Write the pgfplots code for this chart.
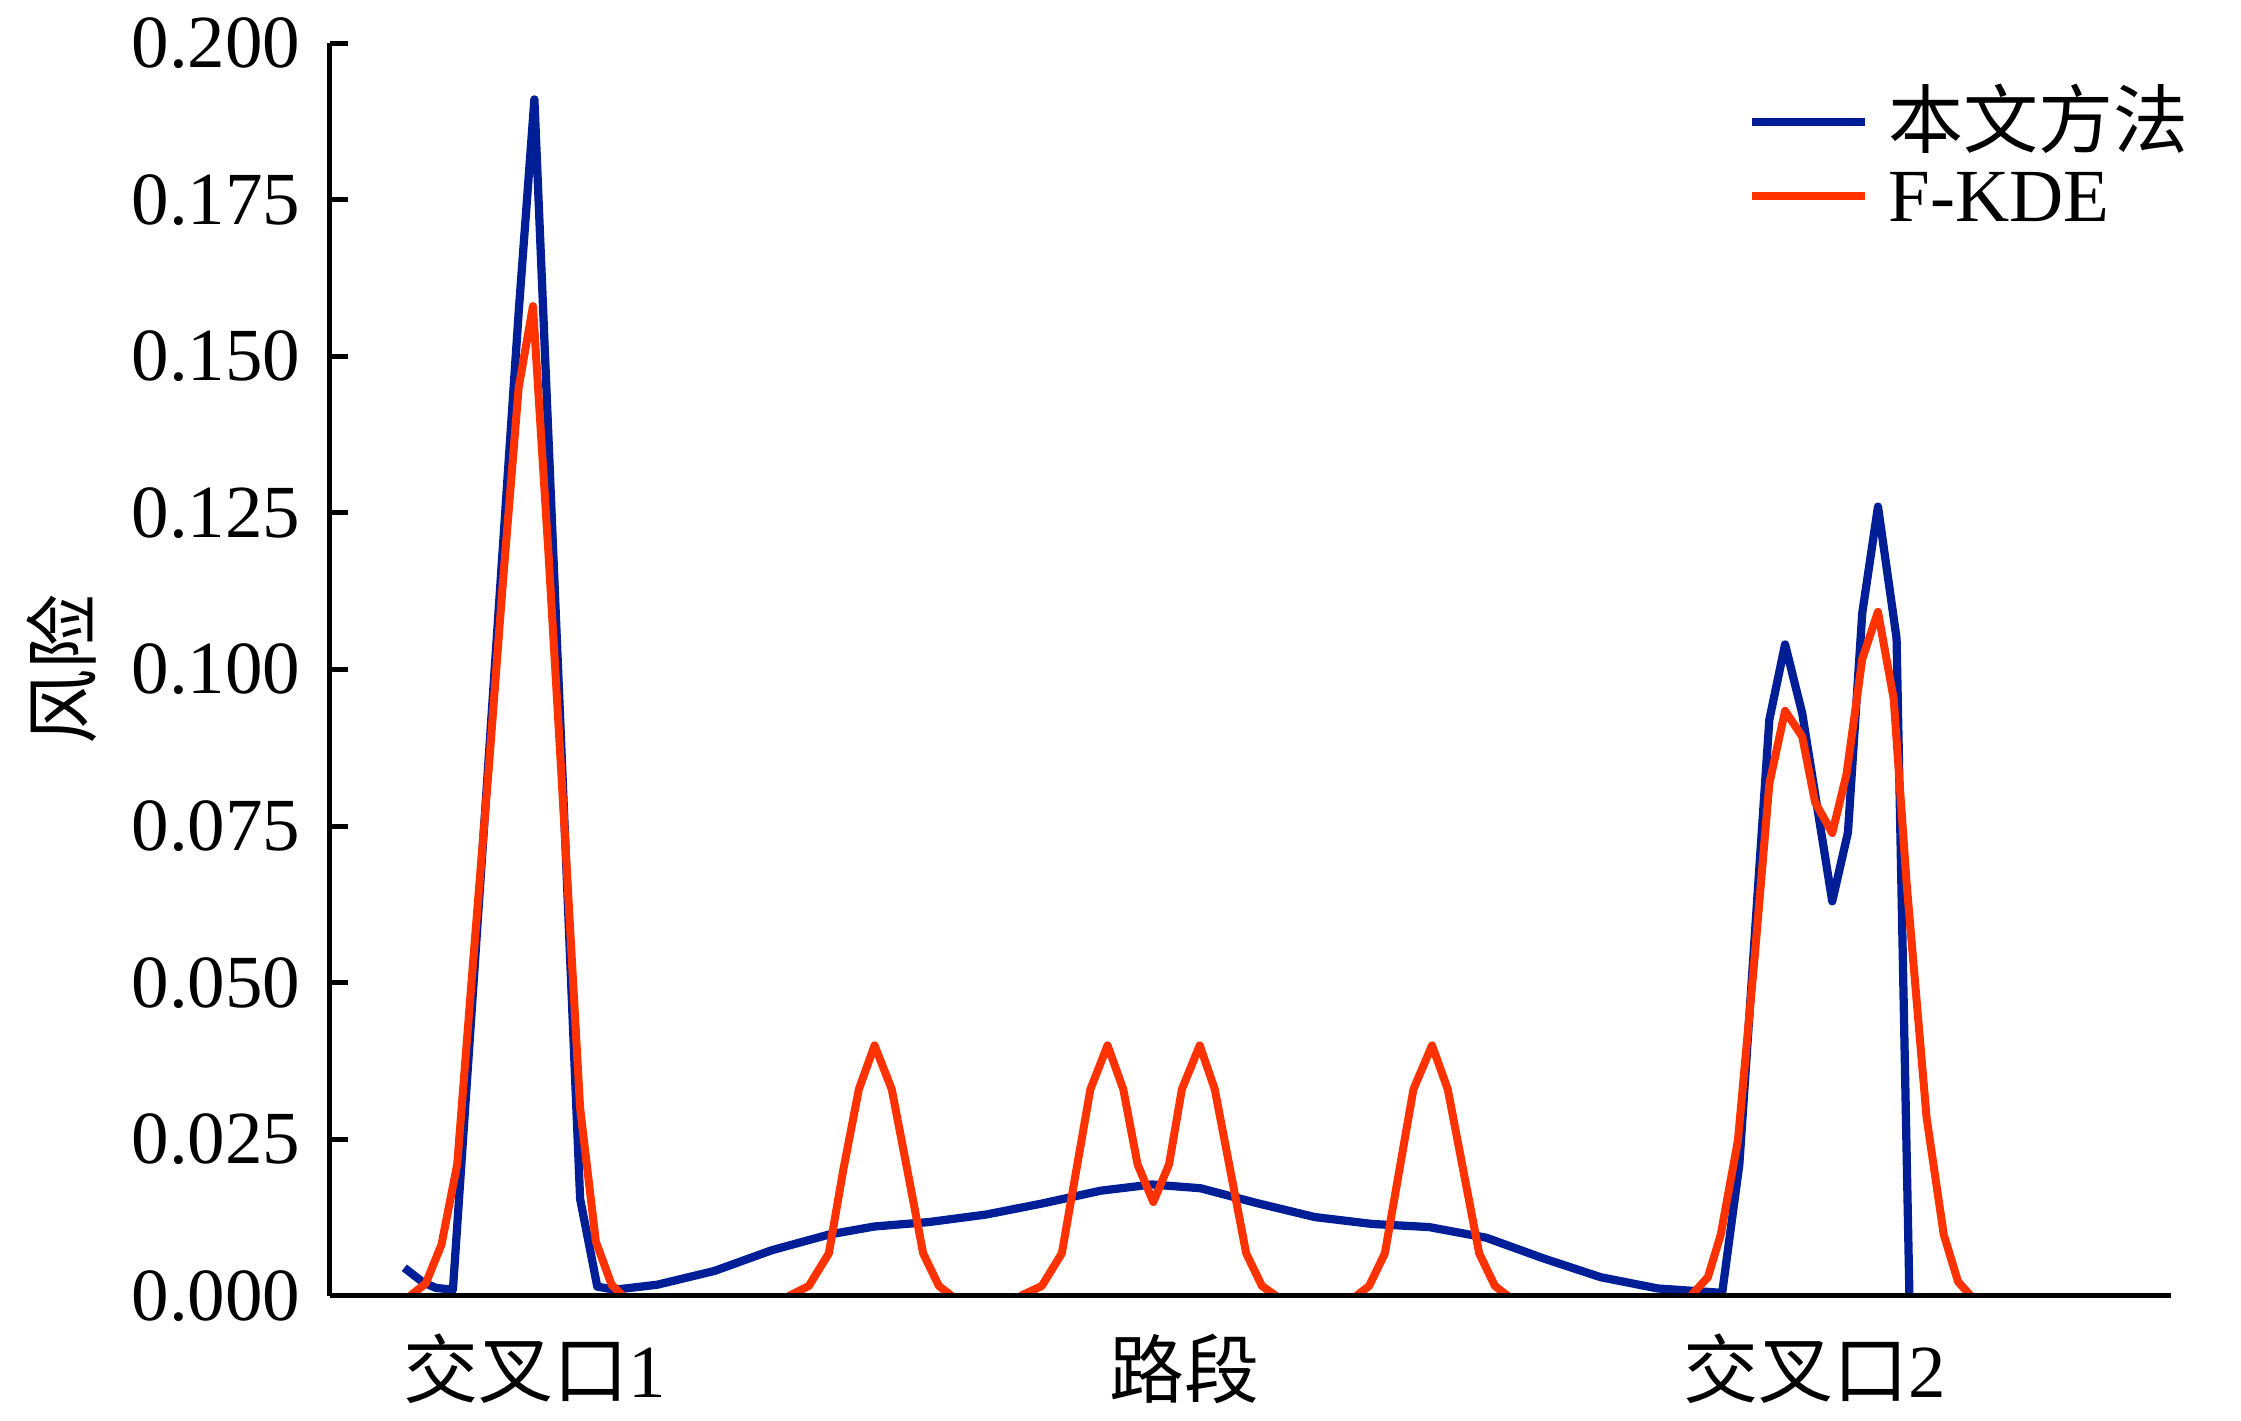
\documentclass[border=0pt]{standalone}
\usepackage{fontspec}
\setmainfont{Liberation Serif}
\newfontfamily\cjk{Noto Sans CJK SC}
\usepackage{pgfplots}
\pgfplotsset{compat=1.18}
\definecolor{myblue}{RGB}{0,30,150}
\definecolor{myred}{RGB}{255,50,0}
\begin{document}
\begin{tikzpicture}
\path (-66pt,-25pt) rectangle (382.2pt,259.2pt);
\begin{axis}[
  at={(0pt,0pt)}, anchor=south west,
  width=368.2pt, height=250.6pt, scale only axis,
  xmin=231, xmax=1519, ymin=0, ymax=0.2,
  axis x line*=bottom, axis y line*=left,
  axis line style={line width=1pt, -},
  axis on top,
  unbounded coords=jump,
  xtick={374,829,1270},
  xticklabels={{\cjk 交叉口}1, {\cjk 路段}, {\cjk 交叉口}2},
  xtick style={draw=none},
  ytick={0,0.025,0.05,0.075,0.1,0.125,0.15,0.175,0.2},
  ytick style={line width=1pt, black},
  tick align=inside,
  major tick length=3.7pt,
  scaled y ticks=false,
  yticklabel style={/pgf/number format/fixed, /pgf/number format/fixed zerofill, /pgf/number format/precision=3, /pgf/number format/assume math mode=true, xshift=-5.7pt},
  tick label style={font=\fontsize{15}{18}\selectfont, inner sep=0pt},
  xticklabel style={anchor=base, yshift=-20.3pt},
  ylabel={{\cjk 风险}},
  ylabel style={at={(axis description cs:-0.1456,0.5)}, anchor=center, font=\fontsize{15}{18}\selectfont, inner sep=0pt},
  legend style={at={(axis description cs:0.770,0.9593)}, anchor=north west, draw=none, fill=none, inner sep=0pt, outer sep=0pt, row sep=0pt, column sep=4pt, font=\fontsize{15}{18}\selectfont, nodes={inner sep=0pt, text height=10.8pt, text depth=4pt}},
  legend cell align=left,
  legend image code/.code={\draw[#1, line width=1.6pt] (0pt,1.7pt) -- (22.6pt,1.7pt);},
  legend entries={{\cjk 本文方法}, F-KDE},
]
\addplot[color=myblue, line width=1.65pt, line join=round, no marks] coordinates {
(283,0.0045) (296,0.0022) (305,0.0013) (317,0.0010) (363,0.157) (374,0.191)
(406,0.0155) (418,0.0015) (430,0.0010) (460,0.0018) (500,0.0040) (540,0.0073)
(580,0.0098) (612,0.0111) (650,0.0118) (690,0.0130) (730,0.0148) (770,0.0168)
(806,0.0178) (840,0.0172) (880,0.0148) (920,0.0126) (960,0.0115) (1000,0.0110)
(1040,0.0093) (1080,0.0060) (1120,0.0030) (1160,0.0012) (1205,0.0005)
(1217,0.021) (1238,0.092) (1249,0.104) (1261,0.093) (1282,0.063) (1293,0.074)
(1303,0.109) (1314,0.126) (1327,0.105) (1336,0.000)
};
\addplot[color=myred, line width=1.6pt, line join=round, no marks] coordinates {
(287,0.0000) (298,0.0020) (309,0.0082) (320,0.0210) (331,0.0530) (342,0.0840)
(352,0.1140) (363,0.1450) (373,0.1580) (384,0.1180) (395,0.0750) (406,0.0300)
(417,0.0087) (428,0.0018) (436,0.0000)
(490,nan)
(552,0.0000) (566,0.0016) (580,0.0068) (590,0.0200) (601,0.0330) (612,0.0400)
(624,0.0330) (635,0.0200) (646,0.0068) (657,0.0016) (666,0.0000)
(690,nan)
(714,0.0000) (729,0.0016) (743,0.0068) (763,0.0330) (775,0.0400) (786,0.0330)
(796,0.0210) (807,0.0150) (818,0.0210) (827,0.0330) (839.5,0.0400) (850,0.0330)
(872,0.0068) (883,0.0016) (893,0.0000)
(920,nan)
(949,0.0000) (958,0.0016) (969,0.0068) (989,0.0330) (1002,0.0400) (1013,0.0330)
(1035,0.0068) (1046,0.0016) (1055,0.0000)
(1120,nan)
(1183,0.0000) (1195,0.0030) (1204,0.0098) (1216,0.0248) (1228,0.0548) (1238,0.0818)
(1249,0.0934) (1261,0.0893) (1270,0.0788) (1282,0.0739) (1292,0.0833) (1303,0.1017)
(1314,0.1092) (1325,0.0953) (1334,0.0660) (1348,0.0285) (1360,0.0098) (1370,0.0023)
(1379,0.0000)
};
\end{axis}
\end{tikzpicture}
\end{document}
